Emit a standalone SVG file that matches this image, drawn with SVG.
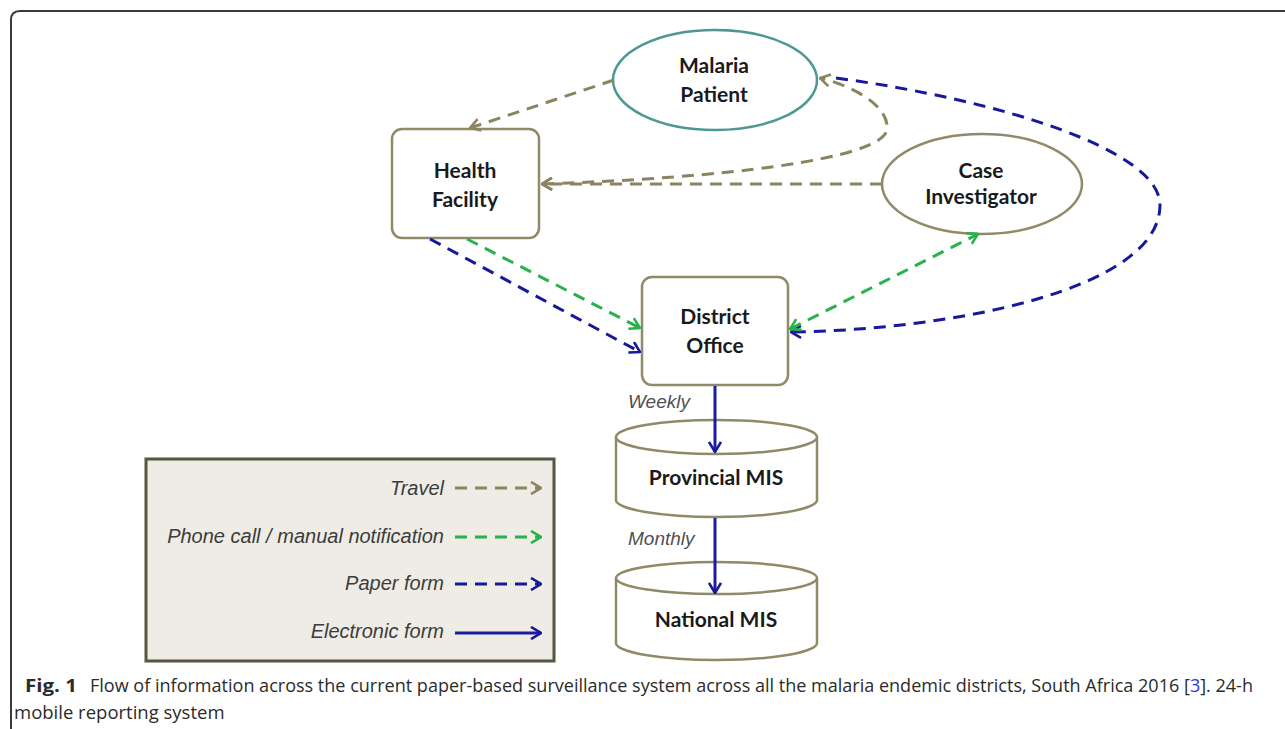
<svg xmlns="http://www.w3.org/2000/svg" width="1285" height="729" viewBox="0 0 1285 729">
<defs>
<style>
.node{fill:#ffffff;stroke:#908a68;stroke-width:2.5}
.lbl{font-family:Lato,"Liberation Sans",sans-serif;font-weight:700;font-size:21px;fill:#1a1a1a;text-anchor:middle}
.freq{font-family:"Liberation Sans",Arial,sans-serif;font-style:italic;font-size:19px;fill:#505050}
.leg{font-family:"Liberation Sans",Arial,sans-serif;font-style:italic;font-size:20px;fill:#3c3c3c;text-anchor:end}
.travel{fill:none;stroke:#8a8460;stroke-width:3;stroke-dasharray:12 8}
.phone{fill:none;stroke:#27b24c;stroke-width:3;stroke-dasharray:12 8}
.paper{fill:none;stroke:#18189a;stroke-width:3;stroke-dasharray:12 8}
.elec{fill:none;stroke:#1c1ca0;stroke-width:3}
.cap{font-family:"Open Sans","Liberation Sans",sans-serif;font-size:18.5px;fill:#2b2b2b}
</style>
<marker id="mT" viewBox="0 0 12 14" refX="11" refY="7" markerWidth="12" markerHeight="14" markerUnits="userSpaceOnUse" orient="auto-start-reverse"><path d="M1,1 L11,7 L1,13" fill="none" stroke="#8a8460" stroke-width="2.6"/></marker>
<marker id="mP" viewBox="0 0 12 14" refX="11" refY="7" markerWidth="12" markerHeight="14" markerUnits="userSpaceOnUse" orient="auto-start-reverse"><path d="M1,1 L11,7 L1,13" fill="none" stroke="#27b24c" stroke-width="2.6"/></marker>
<marker id="mB" viewBox="0 0 12 14" refX="11" refY="7" markerWidth="12" markerHeight="14" markerUnits="userSpaceOnUse" orient="auto-start-reverse"><path d="M1,1 L11,7 L1,13" fill="none" stroke="#18189a" stroke-width="2.6"/></marker>
</defs>
<rect width="1285" height="729" fill="#ffffff"/>
<path d="M11,729 L11,20 Q11,11 20,11 L1285,11" fill="none" stroke="#3a3a3a" stroke-width="2"/>

<g id="malaria-patient">
<ellipse cx="715" cy="80" rx="102" ry="50" fill="#ffffff" stroke="#4e9894" stroke-width="2.5"/>
<text class="lbl" x="714" y="73">Malaria</text>
<text class="lbl" x="714" y="102">Patient</text>
</g>

<g id="health-facility">
<rect class="node" x="392" y="129" width="147" height="109" rx="10"/>
<text class="lbl" x="465" y="178">Health</text>
<text class="lbl" x="465" y="207">Facility</text>
</g>

<g id="case-investigator">
<ellipse class="node" cx="982" cy="184" rx="100" ry="50"/>
<text class="lbl" x="981" y="178">Case</text>
<text class="lbl" x="981" y="204">Investigator</text>
</g>

<g id="district-office">
<rect class="node" x="642" y="277" width="146" height="108" rx="10"/>
<text class="lbl" x="715" y="324">District</text>
<text class="lbl" x="715" y="353">Office</text>
</g>

<g id="provincial-mis">
<path class="node" d="M616,437 L616,500 A100.5,17 0 0 0 817,500 L817,437"/>
<ellipse class="node" cx="716.5" cy="437" rx="100.5" ry="17"/>
<text class="lbl" x="716" y="485">Provincial MIS</text>
</g>

<g id="national-mis">
<path class="node" d="M616,578 L616,643 A100.5,17 0 0 0 817,643 L817,578"/>
<ellipse class="node" cx="716.5" cy="578" rx="100.5" ry="16"/>
<text class="lbl" x="716" y="627">National MIS</text>
</g>

<g id="connectors">
<line class="travel" x1="614" y1="80" x2="470" y2="128" marker-end="url(#mT)"/>
<line class="travel" x1="882" y1="184" x2="542" y2="184" marker-end="url(#mT)"/>
<path class="travel" d="M542,184 C720,178 880,160 887,130 C890,105 850,85 820,78" marker-start="url(#mT)" marker-end="url(#mT)"/>
<path class="paper" d="M836,78 C1000,100 1160,150 1160,205 C1160,290 950,330 791,332" marker-end="url(#mB)"/>
<line class="phone" x1="790" y1="329" x2="978" y2="234" marker-start="url(#mP)" marker-end="url(#mP)"/>
<line class="phone" x1="467" y1="239" x2="640" y2="328" marker-end="url(#mP)"/>
<line class="paper" x1="430" y1="239" x2="640" y2="352" marker-end="url(#mB)"/>
<line class="elec" x1="715" y1="386" x2="715" y2="452" marker-end="url(#mB)"/>
<line class="elec" x1="715" y1="518" x2="715" y2="593" marker-end="url(#mB)"/>
</g>

<text class="freq" x="628" y="408">Weekly</text>
<text class="freq" x="628" y="545">Monthly</text>

<g id="legend">
<rect x="146" y="459" width="408" height="202" fill="#eeece5" stroke="#56553f" stroke-width="3"/>
<text class="leg" x="444" y="495">Travel</text>
<line class="travel" x1="455" y1="488" x2="541" y2="488" marker-end="url(#mT)"/>
<text class="leg" x="444" y="543">Phone call / manual notification</text>
<line class="phone" x1="455" y1="537" x2="541" y2="537" marker-end="url(#mP)"/>
<text class="leg" x="444" y="590">Paper form</text>
<line class="paper" x1="455" y1="584" x2="541" y2="584" marker-end="url(#mB)"/>
<text class="leg" x="444" y="638">Electronic form</text>
<line class="elec" x1="455" y1="633" x2="541" y2="633" marker-end="url(#mB)"/>
</g>

<g id="caption">
<text class="cap" x="25" y="692" font-weight="700" textLength="52" lengthAdjust="spacingAndGlyphs">Fig. 1</text>
<text class="cap" x="90" y="692" textLength="1163" lengthAdjust="spacingAndGlyphs">Flow of information across the current paper-based surveillance system across all the malaria endemic districts, South Africa 2016 [<tspan fill="#3535d8">3</tspan>]. 24-h</text>
<text class="cap" x="14" y="719">mobile reporting system</text>
</g>
</svg>
